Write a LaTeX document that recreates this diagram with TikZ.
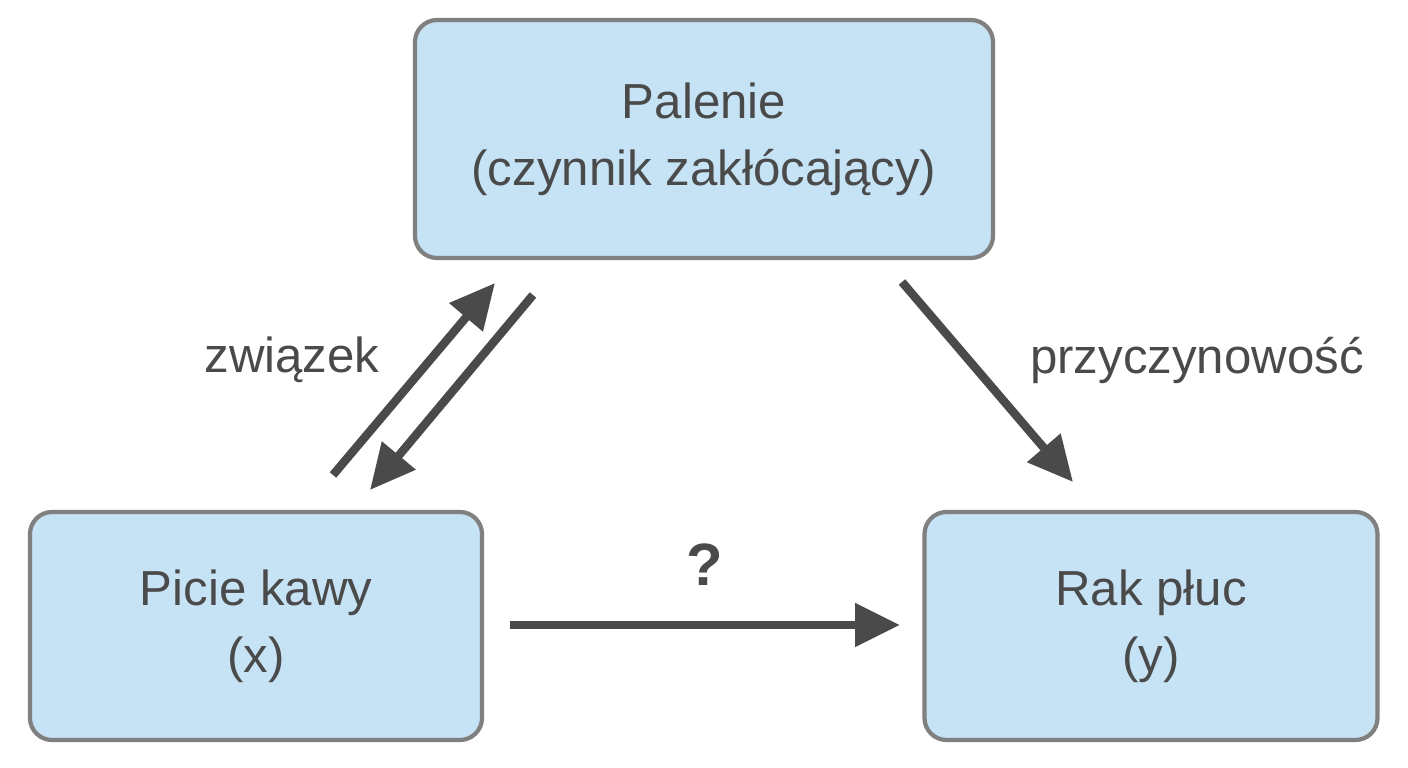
\documentclass[tikz,border=0pt]{standalone}
\usepackage{fontspec}
\setmainfont{Liberation Sans}
\usetikzlibrary{arrows.meta,positioning}
\definecolor{boxfill}{HTML}{C5E3F5}
\definecolor{boxline}{HTML}{808080}
\definecolor{ink}{HTML}{4A4A4A}
\begin{document}
\begin{tikzpicture}[
font=\fontsize{14}{19}\selectfont,
text=ink,
box/.style={draw=boxline,fill=boxfill,line width=1.2pt,rounded corners=0.22cm,align=center,inner sep=0pt},
link/.style={-{Triangle[length=0.45cm,width=0.42cm]},draw=ink,line width=2.4pt},
scale=1]
    % Frame
    \useasboundingbox (0,0) rectangle (14.08,7.68);

    % Boxes
    \node[box,minimum width=5.78cm,minimum height=2.38cm] (smoke) at (7.04,6.29)
        {Palenie\\(czynnik zakłócający)};
    \node[box,minimum width=4.52cm,minimum height=2.28cm] (coffee) at (2.56,1.42)
        {Picie kawy\\(x)};
    \node[box,minimum width=4.53cm,minimum height=2.28cm] (cancer) at (11.51,1.42)
        {Rak płuc\\(y)};

    % Arrow ends
    \draw
    (3.33,2.93) coordinate (upA)
    (4.95,4.85) coordinate (upB)
    (5.33,4.73) coordinate (dnA)
    (3.70,2.78) coordinate (dnB)
    (9.02,4.86) coordinate (rtA)
    (10.73,2.86) coordinate (rtB)
    (5.10,1.43) coordinate (hzA)
    (9.00,1.43) coordinate (hzB);

    \draw[link] (upA) -- (upB);
    \draw[link] (dnA) -- (dnB);
    \draw[link] (rtA) -- (rtB);
    \draw[link] (hzA) -- (hzB);

    % Labels
    \node (assoc) at (2.92,4.08) {związek};
    \node (cause) at (11.97,4.08) {przyczynowość};
    \node[font=\fontsize{17}{20}\selectfont\bfseries] (quest) at (7.05,2.03) {?};
\end{tikzpicture}
\end{document}
